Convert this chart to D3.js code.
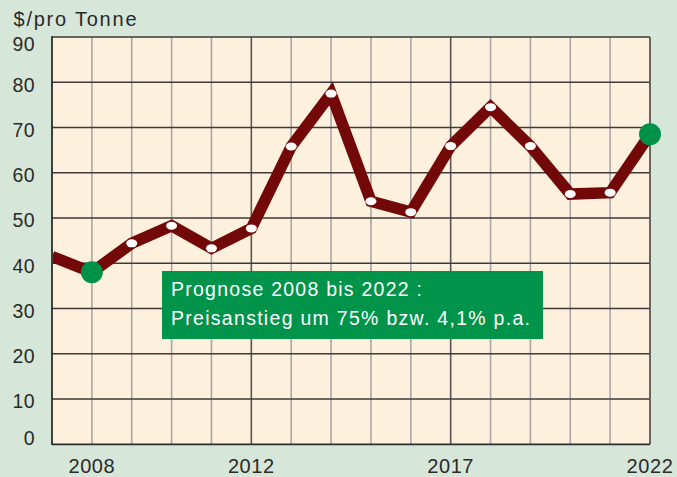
<!DOCTYPE html>
<html><head><meta charset="utf-8">
<script src="https://cdn.jsdelivr.net/npm/d3@7"></script>
<style>
html,body{margin:0;padding:0;background:#d6e6d9;}
svg{display:block;font-family:"Liberation Sans",Arial,sans-serif;}
</style></head>
<body><svg id="c" width="677" height="477"></svg>
<script>
const years = [2007,2008,2009,2010,2011,2012,2013,2014,2015,2016,2017,2018,2019,2020,2021,2022];
const prices = [41.5,38,44.4,48.3,43.3,47.7,65.8,77.5,53.7,51.3,65.9,74.5,65.9,55.3,55.6,68.5];
const highlightYears = [2008,2022];
const yTicks = [0,10,20,30,40,50,60,70,80,90];
const xTickLabels = [2008,2012,2017,2022];
const majorYears = [2012,2017];
const unitLabel = "$/pro Tonne";
const noteLines = ["Prognose 2008 bis 2022 :","Preisanstieg um 75% bzw. 4,1% p.a."];

const svg = d3.select("#c");
svg.append("rect").attr("width",677).attr("height",477).attr("fill","#d6e6d9");
const x = d3.scaleLinear().domain([2007,2022]).range([52,650]);
const y = d3.scaleLinear().domain([0,90]).range([444.3,37]);

svg.append("rect").attr("x",x(2007)).attr("y",y(90)).attr("width",x(2022)-x(2007)).attr("height",y(0)-y(90)).attr("fill","#fdf0dc");

// vertical grid
svg.append("g").selectAll("line").data(years.slice(1,-1)).join("line")
  .attr("x1",d=>x(d)).attr("x2",d=>x(d)).attr("y1",y(90)).attr("y2",y(0))
  .attr("stroke",d=>majorYears.includes(d)?"#5a5656":"#aaa6a4").attr("stroke-width",1.6);
// horizontal grid
svg.append("g").selectAll("line").data(yTicks.slice(1)).join("line")
  .attr("x1",x(2007)).attr("x2",x(2022)).attr("y1",d=>y(d)).attr("y2",d=>y(d))
  .attr("stroke","#3c3a3a").attr("stroke-width",1.4);
// frame
svg.append("line").attr("x1",x(2022)).attr("x2",x(2022)).attr("y1",y(90)).attr("y2",y(0)).attr("stroke","#5a5656").attr("stroke-width",1.8);
svg.append("line").attr("x1",x(2007)).attr("x2",x(2007)).attr("y1",y(90)-0.7).attr("y2",y(0)+0.7).attr("stroke","#2d2b2b").attr("stroke-width",1.8);
svg.append("line").attr("x1",x(2007)).attr("x2",x(2022)).attr("y1",y(0)).attr("y2",y(0)).attr("stroke","#2d2b2b").attr("stroke-width",1.8);

// y labels
const yOff = d => d===90 ? 13.7 : (d===0 ? 0.9 : 9.4);
svg.append("g").selectAll("text").data(yTicks).join("text")
  .attr("x",35).attr("y",d=>y(d)+yOff(d)).attr("text-anchor","end")
  .attr("font-size",19.5).attr("letter-spacing",0.4).attr("fill","#2a2a2a").text(d=>d);
svg.append("text").attr("x",13.5).attr("y",26).attr("font-size",20)
  .attr("textLength",123).attr("lengthAdjust","spacing").attr("fill","#2a2a2a").text(unitLabel);
// x labels
svg.append("g").selectAll("text").data(xTickLabels).join("text")
  .attr("x",d=>x(d)).attr("y",472.7).attr("text-anchor","middle")
  .attr("font-size",20).attr("letter-spacing",0.6).attr("fill","#2a2a2a").text(d=>d);

// line
const pts = years.map((yr,i)=>({yr,v:prices[i]}));
const line = d3.line().x(d=>x(d.yr)).y(d=>y(d.v));
svg.append("clipPath").attr("id","clip").append("rect").attr("x",x(2007)+1).attr("y",0).attr("width",x(2022)-x(2007)+20).attr("height",477);
svg.append("path").datum(pts).attr("d",line).attr("fill","none")
  .attr("stroke","#730808").attr("stroke-width",11.5).attr("stroke-linejoin","miter").attr("clip-path","url(#clip)");
svg.append("g").selectAll("ellipse").data(pts.filter(d=>d.yr>2007 && !highlightYears.includes(d.yr))).join("ellipse")
  .attr("cx",d=>x(d.yr)).attr("cy",d=>y(d.v)).attr("rx",5.5).attr("ry",4).attr("fill","#fff");
svg.append("g").selectAll("circle").data(pts.filter(d=>highlightYears.includes(d.yr))).join("circle")
  .attr("cx",d=>x(d.yr)).attr("cy",d=>y(d.v)).attr("r",11).attr("fill","#009149");

// note
svg.append("rect").attr("x",162).attr("y",271).attr("width",381).attr("height",68).attr("fill","#00934a");
const noteW = [251, 359];
svg.append("g").selectAll("text").data(noteLines).join("text")
  .attr("x",171).attr("y",(d,i)=>296+i*29).attr("font-size",19.5)
  .attr("textLength",(d,i)=>noteW[i]).attr("lengthAdjust","spacing")
  .attr("fill","#fff").text(d=>d);
</script></body></html>
